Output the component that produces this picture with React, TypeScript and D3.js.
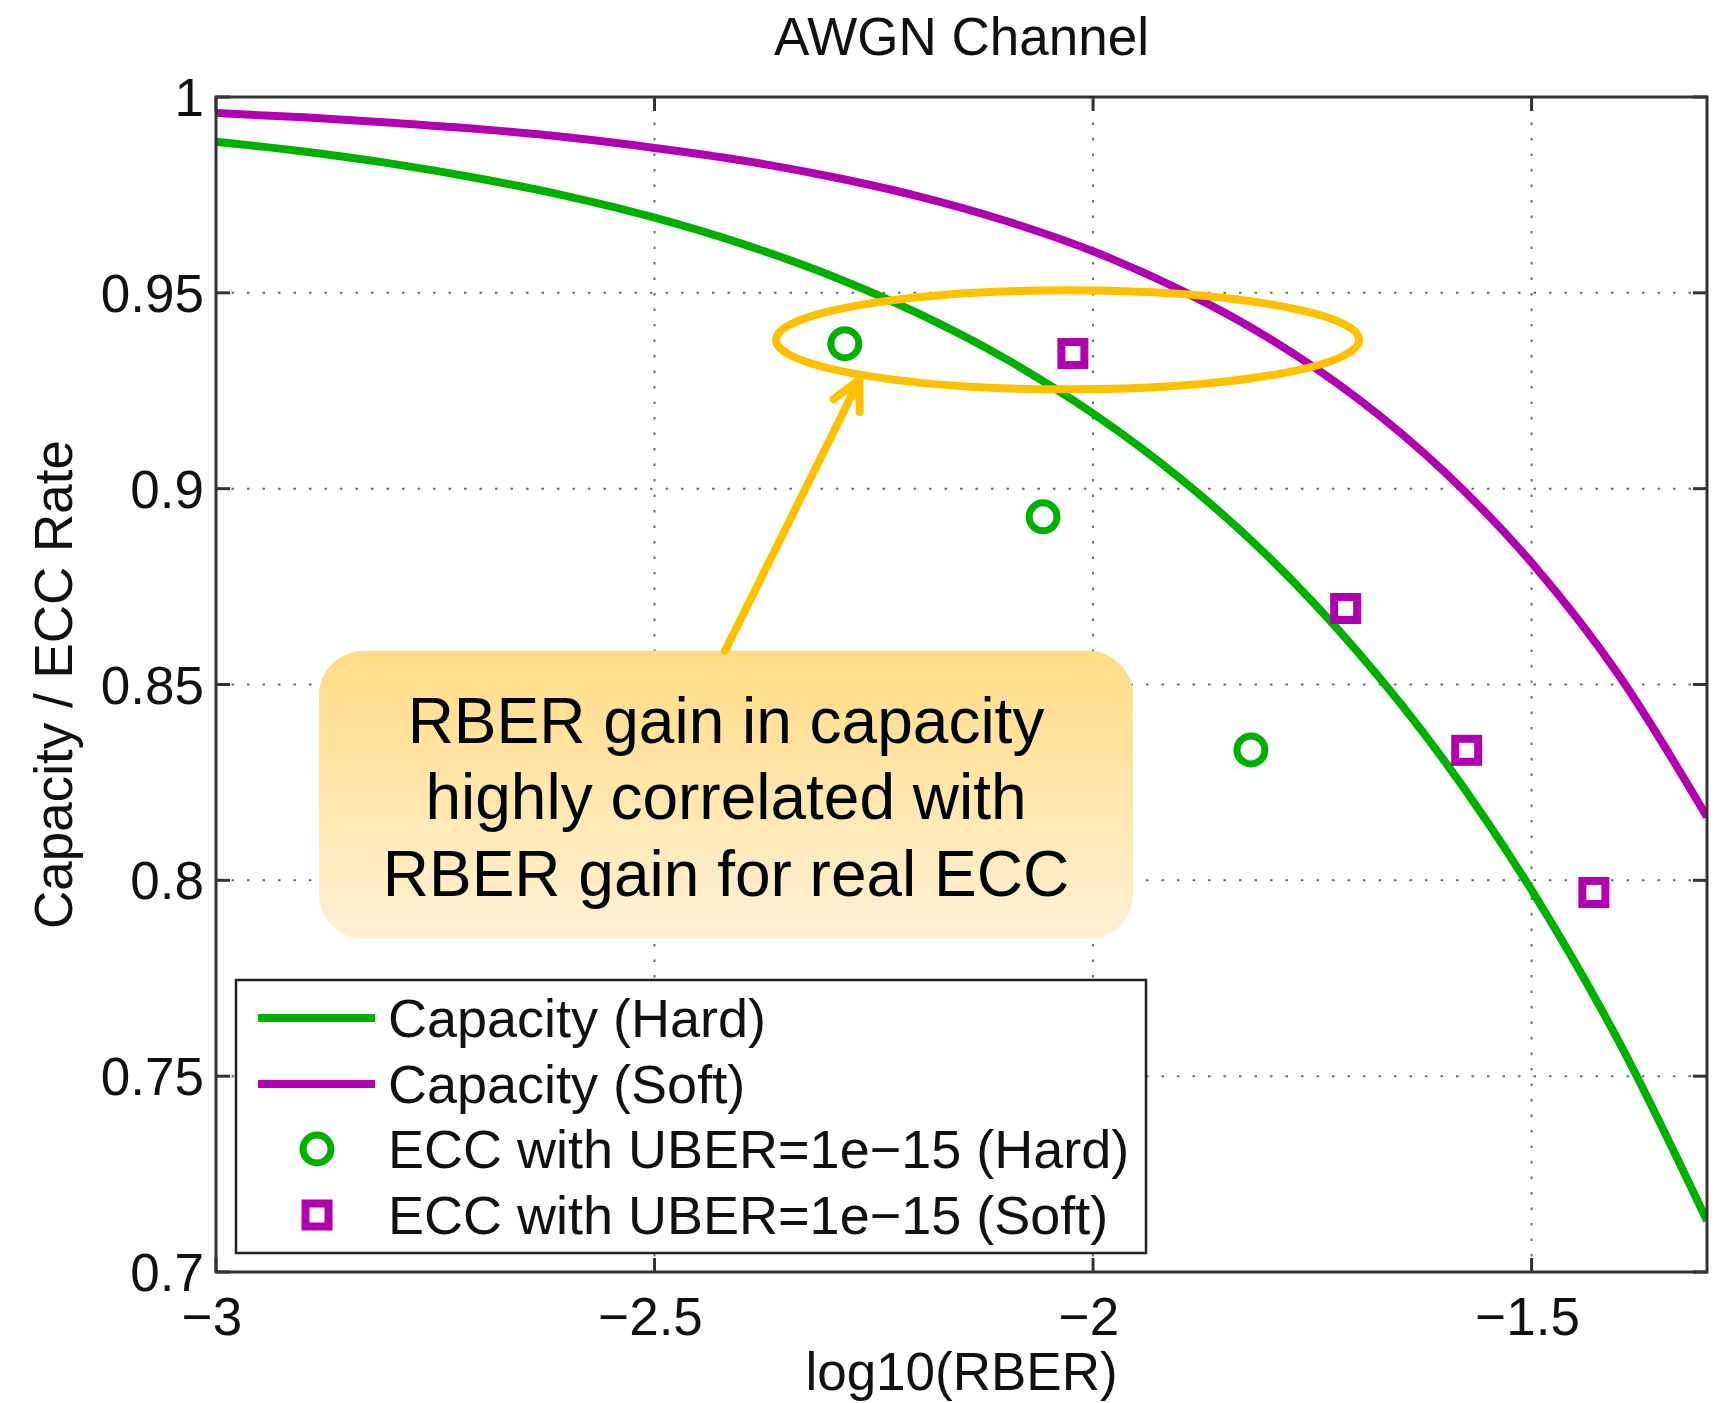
import React from "react";
import * as d3 from "d3";

// log10(RBER) sample grid for the two capacity curves
const rberLog = [-3.0, -2.9, -2.8, -2.7, -2.6, -2.5, -2.4, -2.3, -2.2, -2.1, -2.0, -1.9, -1.8, -1.7, -1.6, -1.5, -1.4, -1.3];
// hard-decision capacity
const capacityHard = [0.9886, 0.9861, 0.9830, 0.9792, 0.9747, 0.9692, 0.9625, 0.9545, 0.9448, 0.9332, 0.9192, 0.9025, 0.8826, 0.8588, 0.8307, 0.7975, 0.7586, 0.7131];
// soft-decision capacity
const capacitySoft = [0.9959, 0.9948, 0.9934, 0.9918, 0.9897, 0.9870, 0.9838, 0.9797, 0.9747, 0.9684, 0.9606, 0.9507, 0.9385, 0.9233, 0.9044, 0.8811, 0.8522, 0.8162];

// real ECC code rates meeting UBER = 1e-15
const eccHardLogRber = [-2.283, -2.057, -1.820];
const eccHardRate = [0.937, 0.8928, 0.8333];
const eccSoftLogRber = [-2.023, -1.712, -1.574, -1.429];
const eccSoftRate = [0.9345, 0.8694, 0.8332, 0.7969];

const xTicks = [-3, -2.5, -2, -1.5];
const yTicks = [0.7, 0.75, 0.8, 0.85, 0.9, 0.95, 1];
const xDomain = [-3, -1.3];
const yDomain = [0.7, 1];

const legendLabels = [
  "Capacity (Hard)",
  "Capacity (Soft)",
  "ECC with UBER=1e\u221215 (Hard)",
  "ECC with UBER=1e\u221215 (Soft)",
];
const calloutLines = [
  "RBER gain in capacity",
  "highly correlated with",
  "RBER gain for real ECC",
];

const GREEN = "#00b000";
const MAGENTA = "#b000b0";
const ORANGE = "#ffc000";
const FONT = "'Liberation Sans', Arial, Helvetica, sans-serif";

const W = 1729;
const H = 1403;
const plot = { left: 216, right: 1707, top: 97, bottom: 1272 };

// annotation placement, in data units
const callout = { x0: -2.8826, x1: -1.9544, yTop: 0.8586, yBottom: 0.785 };
const ring = { cx: -2.0291, cy: 0.938, rx: 0.3324, ry: 0.01264 };
const pointer = { fromX: -2.4196, fromY: 0.8586, toX: -2.2665, toY: 0.92775 };

export default function App() {
  const x = d3.scaleLinear().domain(xDomain).range([plot.left, plot.right]);
  const y = d3.scaleLinear().domain(yDomain).range([plot.bottom, plot.top]);
  const fmt = d3.format("");

  const line = d3
    .line<number>()
    .x((_, i) => x(rberLog[i]))
    .y((d) => y(d))
    .curve(d3.curveMonotoneX);

  const tickLen = 14;
  const circleR = 14;
  const sq = 23;
  const curveW = 8;

  // callout box geometry
  const bx0 = x(callout.x0);
  const bx1 = x(callout.x1);
  const by0 = y(callout.yTop);
  const by1 = y(callout.yBottom);
  const bcx = (bx0 + bx1) / 2;

  // arrow geometry
  const ax0 = x(pointer.fromX);
  const ay0 = y(pointer.fromY);
  const ax1 = x(pointer.toX);
  const ay1 = y(pointer.toY);
  const ang = Math.atan2(ay0 - ay1, ax0 - ax1);
  const wing = 32;
  const spread = (27 * Math.PI) / 180;
  const w1 = [ax1 + wing * Math.cos(ang + spread), ay1 + wing * Math.sin(ang + spread)];
  const w2 = [ax1 + wing * Math.cos(ang - spread), ay1 + wing * Math.sin(ang - spread)];

  // legend layout
  const lg = { x0: 236, x1: 1146, y0: 980, y1: 1253 };
  const rowY = [1018, 1084, 1149, 1215];
  const sampleX0 = 258;
  const sampleX1 = 375;
  const markerX = 317;
  const textX = 388;

  return (
    <>
      <style>{`body{margin:0;background:#fff}`}</style>
      <svg width={W} height={H} viewBox={`0 0 ${W} ${H}`} style={{ display: "block" }} fontFamily={FONT}>
        <defs>
          <clipPath id="plotClip">
            <rect x={plot.left} y={plot.top} width={plot.right - plot.left} height={plot.bottom - plot.top} />
          </clipPath>
          <linearGradient id="calloutFill" x1="0" y1="0" x2="0" y2="1">
            <stop offset="0" stopColor="#ffdc84" />
            <stop offset="1" stopColor="#fff1d6" />
          </linearGradient>
        </defs>
        <rect width={W} height={H} fill="#fff" />

        {/* title */}
        <text x={(plot.left + plot.right) / 2} y={55} fontSize={53} textAnchor="middle" fill="#111">
          AWGN Channel
        </text>

        {/* dotted grid */}
        <g stroke="#6a6a6a" strokeWidth={2} strokeDasharray="2.5 13">
          {xTicks
            .filter((t) => t !== xDomain[0])
            .map((t) => (
              <line key={`gx${t}`} x1={x(t)} x2={x(t)} y1={plot.bottom} y2={plot.top} />
            ))}
          {yTicks
            .filter((t) => t !== yDomain[0] && t !== yDomain[1])
            .map((t) => (
              <line key={`gy${t}`} x1={plot.left} x2={plot.right} y1={y(t)} y2={y(t)} />
            ))}
        </g>

        {/* capacity curves */}
        <g clipPath="url(#plotClip)" fill="none" strokeWidth={curveW} strokeLinejoin="round">
          <path d={line(capacityHard) || ""} stroke={GREEN} />
          <path d={line(capacitySoft) || ""} stroke={MAGENTA} />
        </g>

        {/* ECC markers */}
        <g fill="none" strokeWidth={7}>
          {eccHardLogRber.map((v, i) => (
            <circle key={`h${i}`} cx={x(v)} cy={y(eccHardRate[i])} r={circleR} stroke={GREEN} />
          ))}
        </g>
        <g fill="none" strokeWidth={8}>
          {eccSoftLogRber.map((v, i) => (
            <rect
              key={`s${i}`}
              x={x(v) - sq / 2}
              y={y(eccSoftRate[i]) - sq / 2}
              width={sq}
              height={sq}
              stroke={MAGENTA}
            />
          ))}
        </g>

        {/* legend */}
        <g>
          <rect x={lg.x0} y={lg.y0} width={lg.x1 - lg.x0} height={lg.y1 - lg.y0} fill="#fff" stroke="#222" strokeWidth={2.5} />
          <line x1={sampleX0} x2={sampleX1} y1={rowY[0]} y2={rowY[0]} stroke={GREEN} strokeWidth={curveW} />
          <line x1={sampleX0} x2={sampleX1} y1={rowY[1]} y2={rowY[1]} stroke={MAGENTA} strokeWidth={curveW} />
          <circle cx={markerX} cy={rowY[2]} r={circleR} fill="none" stroke={GREEN} strokeWidth={7} />
          <rect x={markerX - sq / 2} y={rowY[3] - sq / 2} width={sq} height={sq} fill="none" stroke={MAGENTA} strokeWidth={8} />
          {legendLabels.map((t, i) => (
            <text key={t} x={textX} y={rowY[i] + 19} fontSize={54} fill="#111">
              {t}
            </text>
          ))}
        </g>

        {/* axes box and ticks */}
        <g stroke="#333" strokeWidth={3} fill="none">
          <rect x={plot.left} y={plot.top} width={plot.right - plot.left} height={plot.bottom - plot.top} />
          {xTicks.map((t) => (
            <g key={`tx${t}`}>
              <line x1={x(t)} x2={x(t)} y1={plot.bottom} y2={plot.bottom - tickLen} />
              <line x1={x(t)} x2={x(t)} y1={plot.top} y2={plot.top + tickLen} />
            </g>
          ))}
          {yTicks.map((t) => (
            <g key={`ty${t}`}>
              <line x1={plot.left} x2={plot.left + tickLen} y1={y(t)} y2={y(t)} />
              <line x1={plot.right} x2={plot.right - tickLen} y1={y(t)} y2={y(t)} />
            </g>
          ))}
        </g>

        {/* tick labels */}
        <g fontSize={53} fill="#111">
          {xTicks.map((t) => (
            <text key={`lx${t}`} x={x(t) - 4} y={1335} textAnchor="middle">
              {fmt(t)}
            </text>
          ))}
          {yTicks.map((t) => (
            <text key={`ly${t}`} x={plot.left - 12} y={y(t) + 19} textAnchor="end">
              {fmt(t)}
            </text>
          ))}
        </g>

        {/* axis titles */}
        <text x={(plot.left + plot.right) / 2} y={1390} fontSize={53} textAnchor="middle" fill="#111">
          log10(RBER)
        </text>
        <text
          transform={`translate(72, ${(plot.top + plot.bottom) / 2}) rotate(-90)`}
          fontSize={53}
          textAnchor="middle"
          fill="#111"
        >
          Capacity / ECC Rate
        </text>

        {/* callout box */}
        <rect x={bx0} y={by0} width={bx1 - bx0} height={by1 - by0} rx={45} ry={45} fill="url(#calloutFill)" />
        <g fontSize={64} textAnchor="middle" fill="#000">
          {calloutLines.map((t, i) => (
            <text key={t} x={bcx} y={by0 + 92 + i * 76.5}>
              {t}
            </text>
          ))}
        </g>

        {/* highlight ellipse */}
        <ellipse
          cx={x(ring.cx)}
          cy={y(ring.cy)}
          rx={x(ring.cx + ring.rx) - x(ring.cx)}
          ry={y(ring.cy - ring.ry) - y(ring.cy)}
          fill="none"
          stroke={ORANGE}
          strokeWidth={8}
        />

        {/* pointer arrow */}
        <g stroke={ORANGE} strokeWidth={8} strokeLinecap="round" fill="none">
          <line x1={ax0} y1={ay0} x2={ax1} y2={ay1} />
          <polyline points={`${w1[0]},${w1[1]} ${ax1},${ay1} ${w2[0]},${w2[1]}`} strokeLinejoin="round" />
        </g>
      </svg>
    </>
  );
}
